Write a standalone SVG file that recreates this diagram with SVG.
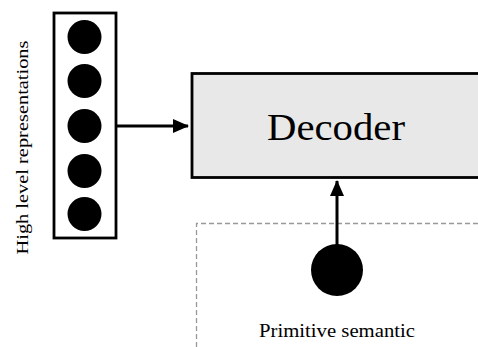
<svg xmlns="http://www.w3.org/2000/svg" width="478" height="347" viewBox="0 0 478 347">
<style>
.lbl{font-family:"Liberation Serif","DejaVu Serif",serif;fill:#000}
.dot{fill:#000}
.conn{stroke:#000;stroke-width:3;fill:none}
</style>
<defs>
<marker id="ah" markerUnits="userSpaceOnUse" markerWidth="16" markerHeight="14" refX="15" refY="7" orient="auto">
<path d="M0,0 L16,7 L0,14 Z" fill="#000"/>
</marker>
</defs>
<rect width="478" height="347" fill="#fff"/>
<g id="context">
<path d="M196.5,347 V223.5 H478" fill="none" stroke="#999" stroke-width="1.3" stroke-dasharray="5,3"/>
</g>
<g id="high-level">
<rect x="54" y="13" width="62" height="225" fill="#fff" stroke="#000" stroke-width="2.8"/>
<circle class="dot" cx="84.5" cy="37" r="17"/>
<circle class="dot" cx="84.5" cy="81" r="17"/>
<circle class="dot" cx="84.5" cy="126" r="17"/>
<circle class="dot" cx="84.5" cy="171" r="17"/>
<circle class="dot" cx="84.5" cy="214" r="17"/>
<text class="lbl" transform="translate(28,147.5) rotate(-90)" text-anchor="middle" font-size="17" textLength="214" lengthAdjust="spacingAndGlyphs">High level representations</text>
</g>
<g id="decoder">
<rect x="192" y="73.5" width="300" height="104" fill="#e8e8e8" stroke="#000" stroke-width="2.8"/>
<text class="lbl" x="336" y="140" text-anchor="middle" font-size="38" textLength="138" lengthAdjust="spacingAndGlyphs">Decoder</text>
</g>
<g id="primitive">
<circle class="dot" cx="337" cy="270" r="26"/>
<text class="lbl" x="337" y="337" text-anchor="middle" font-size="18" textLength="156" lengthAdjust="spacingAndGlyphs">Primitive semantic</text>
</g>
<g id="connectors">
<line class="conn" x1="115" y1="126" x2="188" y2="126" marker-end="url(#ah)"/>
<line class="conn" x1="337" y1="245" x2="337" y2="181" marker-end="url(#ah)"/>
</g>
</svg>
